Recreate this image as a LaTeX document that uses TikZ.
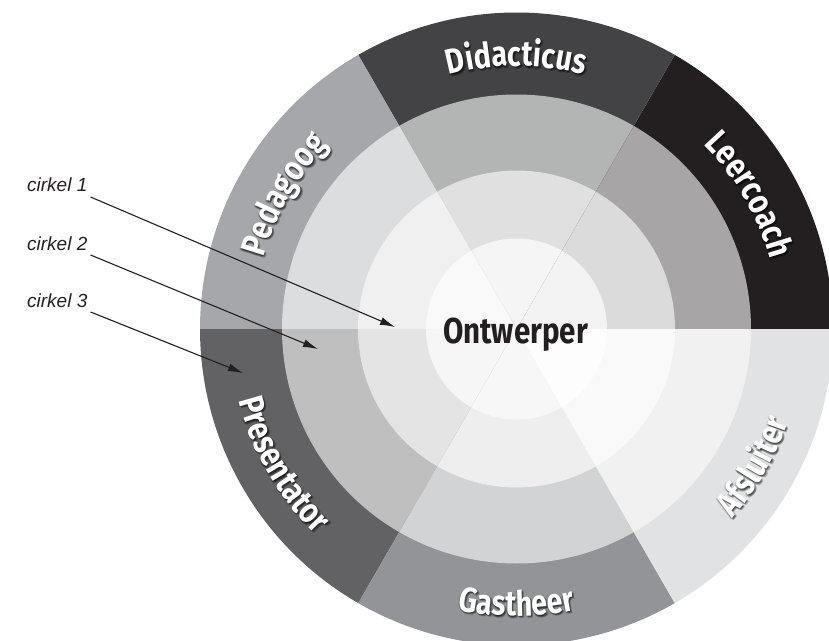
\documentclass[tikz,border=0pt]{standalone}
\usepackage{fontspec}
\usetikzlibrary{decorations.text,arrows.meta,calc}
\newfontfamily\labfont{Fira Sans}[FakeStretch=0.82]
\newfontfamily\cirkfont{Liberation Sans}
\newcommand\labfnt{\labfont\bfseries\fontsize{35}{35}\selectfont}
% outer ring
\definecolor{LeO}{HTML}{231F20}\definecolor{DiO}{HTML}{434345}\definecolor{PeO}{HTML}{A6A7AA}
\definecolor{PrO}{HTML}{626264}\definecolor{GaO}{HTML}{929497}\definecolor{AfO}{HTML}{E1E2E3}
% ring 2
\definecolor{LeM}{HTML}{A7A5A6}\definecolor{DiM}{HTML}{B3B4B4}\definecolor{PeM}{HTML}{DCDDDF}
\definecolor{PrM}{HTML}{BFBFBF}\definecolor{GaM}{HTML}{D2D3D5}\definecolor{AfM}{HTML}{F1F1F1}
% ring 1
\definecolor{LeI}{HTML}{DBDBDB}\definecolor{DiI}{HTML}{E0E0E0}\definecolor{PeI}{HTML}{F0F0F0}
\definecolor{PrI}{HTML}{E4E4E4}\definecolor{GaI}{HTML}{EEEEEE}\definecolor{AfI}{HTML}{F9F9F9}
% core
\definecolor{LeC}{HTML}{F3F3F3}\definecolor{DiC}{HTML}{F5F5F5}\definecolor{PeC}{HTML}{F9F9F9}
\definecolor{PrC}{HTML}{F6F6F6}\definecolor{GaC}{HTML}{F7F7F7}\definecolor{AfC}{HTML}{FDFDFD}
\definecolor{inkblack}{HTML}{231F20}
\newcommand\curvedlabel[4]{%
  \foreach \sx/\sy in {0.8/-1.6,1.8/-1.0,1.2/-2.6,0.2/-0.8,2.4/-2.0,-0.6/-1.4}{%
    \begin{scope}[shift={(\sx,\sy)}, opacity=0.18]
      \path[decorate, decoration={text along path, text color=black, text align=center,
        text={|\labfnt|#1}}] (#2:#4) arc[start angle=#2, end angle=#3, radius=#4];
    \end{scope}}%
  \path[decorate, decoration={text along path, text color=white, text align=center,
    text={|\labfnt|#1}}] (#2:#4) arc[start angle=#2, end angle=#3, radius=#4];
}
\tikzset{
  cirk/.style={font=\cirkfont\itshape\fontsize{19}{19}\selectfont, inner sep=0pt, text=inkblack},
  arr/.style={-{Latex[length=15pt,width=8pt]}, line width=1.1pt, draw=inkblack},
  ont/.style={font=\labfont\bfseries\fontsize{36}{36}\selectfont, text=inkblack, inner sep=0pt}
}
\begin{document}
\begin{tikzpicture}[x=1pt,y=1pt]
\useasboundingbox (-516.5,-311) rectangle (312.5,329);
\begin{scope}
\clip (-516.5,-311) rectangle (312.5,329);
\foreach \a/\co/\cm/\ci/\cc in {0/LeO/LeM/LeI/LeC,60/DiO/DiM/DiI/DiC,120/PeO/PeM/PeI/PeC,
  180/PrO/PrM/PrI/PrC,240/GaO/GaM/GaI/GaC,300/AfO/AfM/AfI/AfC}{
  \fill[\co] (0,0) -- (\a:316.5) arc[start angle=\a, delta angle=60, radius=316.5] -- cycle;
  \fill[\cm] (0,0) -- (\a:234.5) arc[start angle=\a, delta angle=60, radius=234.5] -- cycle;
  \fill[\ci] (0,0) -- (\a:158.5) arc[start angle=\a, delta angle=60, radius=158.5] -- cycle;
  \fill[\cc] (0,0) -- (\a:90.5) arc[start angle=\a, delta angle=60, radius=90.5] -- cycle;
}
\curvedlabel{Didacticus}{140}{40}{263}
\curvedlabel{Leercoach}{80}{-20}{263}
\curvedlabel{Pedagoog}{200}{100}{263}
\curvedlabel{Presentator}{160}{260}{287}
\curvedlabel{Gastheer}{220}{320}{287}
\curvedlabel{Afsluiter}{280}{380}{287}
\end{scope}
\node[ont, anchor=base] (ontw) at (-1,-14) {Ontwerper};
\node[cirk, anchor=base west] (c1) at (-489.5,137) {cirkel 1};
\node[cirk, anchor=base west] (c2) at (-489.5,79) {cirkel 2};
\node[cirk, anchor=base west] (c3) at (-489.5,22) {cirkel 3};
\coordinate (s1) at ($(c1.base east)+(3,-5)$);
\coordinate (s2) at ($(c2.base east)+(3,-5)$);
\coordinate (s3) at ($(c3.base east)+(3,-5)$);
\coordinate (t1) at (-121.5,2);
\coordinate (t2) at (-198.5,-20);
\coordinate (t3) at (-273.5,-44);
\draw[arr] (s1) -- (t1);
\draw[arr] (s2) -- (t2);
\draw[arr] (s3) -- (t3);
\end{tikzpicture}
\end{document}
